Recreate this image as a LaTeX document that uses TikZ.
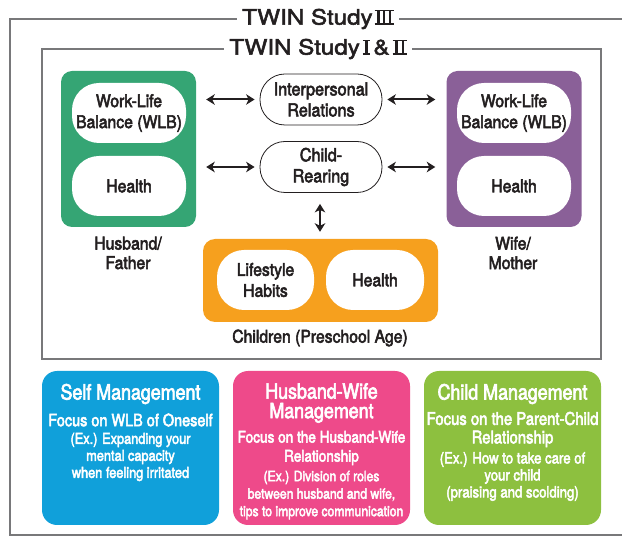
\documentclass[tikz,border=0pt]{standalone}
\usepackage{fontspec}
\setmainfont[FakeStretch=0.85,FakeBold=3]{TeX Gyre Heros}
\newfontfamily\diagfont[FakeStretch=0.9,FakeBold=3]{TeX Gyre Heros}
\newfontfamily\titlefont[FakeStretch=1.15,FakeBold=2.5]{TeX Gyre Heros}
\usetikzlibrary{arrows.meta}

% roman numerals drawn as bars: top serif bar, stems, bottom serif bar
\newcommand\rnstem{\rule{2.4pt}{11.6pt}}
\newcommand\rnglyph[1]{\vbox{\hrule height 1.7pt\hbox{\kern2.6pt#1\kern2.6pt}\hrule height 1.7pt}}
\newcommand\rnone{\rnglyph{\rnstem}}
\newcommand\rntwo{\rnglyph{\rnstem\kern4pt\rnstem}}
\newcommand\rnthree{\rnglyph{\rnstem\kern3.4pt\rnstem\kern3.4pt\rnstem}}

\definecolor{framegray}{RGB}{120,120,122}
\definecolor{ink}{RGB}{35,31,32}
\definecolor{husbandc}{RGB}{53,165,116}
\definecolor{wifec}{RGB}{138,96,152}
\definecolor{kidsc}{RGB}{246,160,30}
\definecolor{selfc}{RGB}{16,160,218}
\definecolor{pairc}{RGB}{238,74,138}
\definecolor{childc}{RGB}{141,192,63}

\tikzset{
  frameline/.style={draw=framegray,line width=2pt},
  titlebox/.style={fill=white,inner xsep=5pt,inner ysep=2pt,text=ink,
    font=\titlefont\fontsize{21}{21}\selectfont},
  group/.style={rounded corners=11pt,minimum width=135pt,minimum height=156pt,inner sep=0pt},
  pill/.style={fill=white,rounded corners=27pt,minimum width=114pt,minimum height=60pt,
    inner sep=0pt,align=center,text=ink,font=\diagfont\fontsize{17.5}{21}\selectfont},
  linkpill/.style={draw=ink,line width=0.8pt,fill=white,rounded corners=25pt,
    minimum width=122pt,minimum height=51pt,inner sep=0pt,align=center,text=ink,
    font=\diagfont\fontsize{18}{21}\selectfont},
  caption/.style={align=center,text=ink,inner sep=0pt,font=\diagfont\fontsize{17.5}{19.5}\selectfont},
  biarrow/.style={{Stealth[length=8.5pt,width=10.5pt,inset=2.5pt]}-{Stealth[length=8.5pt,width=10.5pt,inset=2.5pt]},
    line width=2pt,draw=ink},
  mgmt/.style={rounded corners=15pt,minimum width=177pt,minimum height=154pt,inner sep=0pt},
  mhead/.style={text=white,align=center,inner sep=0pt,font=\fontsize{21}{19.5}\selectfont},
  mfocus/.style={text=white,align=center,inner sep=0pt,font=\fontsize{17}{19}\selectfont},
  mexample/.style={text=white,align=center,inner sep=0pt,font=\fontsize{15}{17}\selectfont},
}

\begin{document}
\begin{tikzpicture}[x=1pt,y=-1pt]
\useasboundingbox (0,0) rectangle (622,537);

% outer and inner study frames
\draw[frameline] (630,19) -- (10,19) -- (10,535) -- (630,535);
\draw[frameline] (42,49) rectangle (601,359);
\node[titlebox] (t3) at (318,19) {TWIN Study\kern2pt\rnthree};
\node[titlebox] (t12) at (318,49) {TWIN Study\kern3pt\rnone\kern3pt\&\kern3pt\rntwo};

% husband / father
\node[group,fill=husbandc] (hus) at (128.5,149) {};
\node[pill] (huswlb) at (129,113) {Work-Life\\Balance (WLB)};
\node[pill] (hushealth) at (129,186) {Health};
\node[caption] (huslab) at (128,253) {Husband/\\Father};

% wife / mother
\node[group,fill=wifec] (wif) at (514,149) {};
\node[pill] (wifwlb) at (514,113) {Work-Life\\Balance (WLB)};
\node[pill] (wifhealth) at (514,186) {Health};
\node[caption] (wiflab) at (513,253) {Wife/\\Mother};

% shared topics
\node[linkpill] (ip) at (321,99.5) {Interpersonal\\Relations};
\node[linkpill] (cr) at (321,167) {Child-\\Rearing};

% children
\node[rounded corners=12pt,minimum width=235pt,minimum height=83pt,inner sep=0pt,fill=kidsc] (kid) at (320.5,280.5) {};
\node[pill,minimum width=97pt] (kidlife) at (265.5,280) {Lifestyle\\Habits};
\node[pill,minimum width=98pt] (kidhealth) at (375,280) {Health};
\node[caption] (kidlab) at (320,338) {Children (Preschool Age)};

% connectors
\draw[biarrow,shorten <=10pt,shorten >=5pt] (ip.west -| hus.east) -- (ip.west);
\draw[biarrow,shorten <=10pt,shorten >=5pt] (cr.west -| hus.east) -- (cr.west);
\draw[biarrow,shorten <=5pt,shorten >=11pt] (ip.east) -- (ip.east -| wif.west);
\draw[biarrow,shorten <=5pt,shorten >=11pt] (cr.east) -- (cr.east -| wif.west);
\draw[biarrow,shorten <=11pt,shorten >=7pt] (cr.south -| 320,0) -- (kid.north -| 320,0);

% management programmes
\node[mgmt,fill=selfc] (selfm) at (130.5,448) {};
\node[mhead] (selfh) at (130.5,394) {Self Management};
\node[mfocus] (selff) at (130.5,420) {Focus on WLB of Oneself};
\node[mexample] (selfe) at (130.5,457) {(Ex.) Expanding your\\mental capacity\\when feeling irritated};

\node[mgmt,fill=pairc] (pairm) at (321.5,448) {};
\node[mhead] (pairh) at (321.5,403) {Husband-Wife\\Management};
\node[mfocus,font=\fontsize{16}{19}\selectfont] (pairf) at (321.5,448) {Focus on the Husband-Wife\\Relationship};
\node[mexample,font=\fontsize{14.3}{17.5}\selectfont] (paire) at (321.5,495) {(Ex.) Division of roles\\between husband and wife,\\tips to improve communication};

\node[mgmt,fill=childc] (childm) at (512.5,448) {};
\node[mhead] (childh) at (512.5,394) {Child Management};
\node[mfocus,font=\fontsize{17.5}{18.5}\selectfont] (childf) at (512.5,429.5) {Focus on the Parent-Child\\Relationship};
\node[mexample,font=\fontsize{15.5}{17}\selectfont] (childe) at (512.5,476.5) {(Ex.) How to take care of\\your child\\(praising and scolding)};
\end{tikzpicture}
\end{document}
